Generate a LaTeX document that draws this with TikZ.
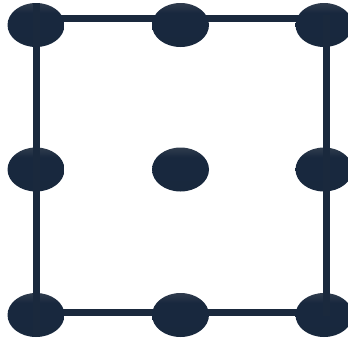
\documentclass[tikz,border=0pt]{standalone}
\usetikzlibrary{shapes.geometric}
\definecolor{navy}{HTML}{1A293D}
\definecolor{navytop}{HTML}{4A525E}
\definecolor{navymid}{HTML}{18283E}
\definecolor{navybot}{HTML}{17273C}
\pgfdeclareverticalshading{dotshade}{100bp}{
    color(0bp)=(navybot); color(50bp)=(navymid); color(64bp)=(navymid);
    color(78bp)=(navytop!60!navymid); color(100bp)=(navytop)}
\tikzset{
    dot/.style={ellipse, minimum width=57pt, minimum height=44pt, inner sep=0pt,
        shading=dotshade, draw=none},
    edge/.style={draw=navy, line width=7pt, line cap=butt},
    common settings/.style={x=1pt, y=-1pt}
}

\begin{document}
\begin{tikzpicture}[common settings]
    \useasboundingbox (0,0) rectangle (348,340);

    % Frame corners
    \coordinate (tl) at (36,18.5);
    \coordinate (tr) at (326,18.5);
    \coordinate (bl) at (36,312.5);
    \coordinate (br) at (326,312.5);

    % Horizontal sides (behind the dots)
    \draw[edge] ([xshift=-3.5pt]tl) -- ([xshift=3.5pt]tr);
    \draw[edge] ([xshift=-3.5pt]bl) -- ([xshift=3.5pt]br);

    % Dots
    \foreach \col/\x in {l/36, m/180.5, r/324}{
        \foreach \row/\y in {t/25, c/169.5, b/315}{
            \node[dot] (d\row\col) at (\x,\y) {};
        }
    }

    % Vertical sides (over the dots)
    \draw[edge] (dtl.north -| tl) -- (dbl.south -| bl);
    \draw[edge] ([yshift=3.5pt]tr) -- ([yshift=-3pt]br);

\end{tikzpicture}
\end{document}
